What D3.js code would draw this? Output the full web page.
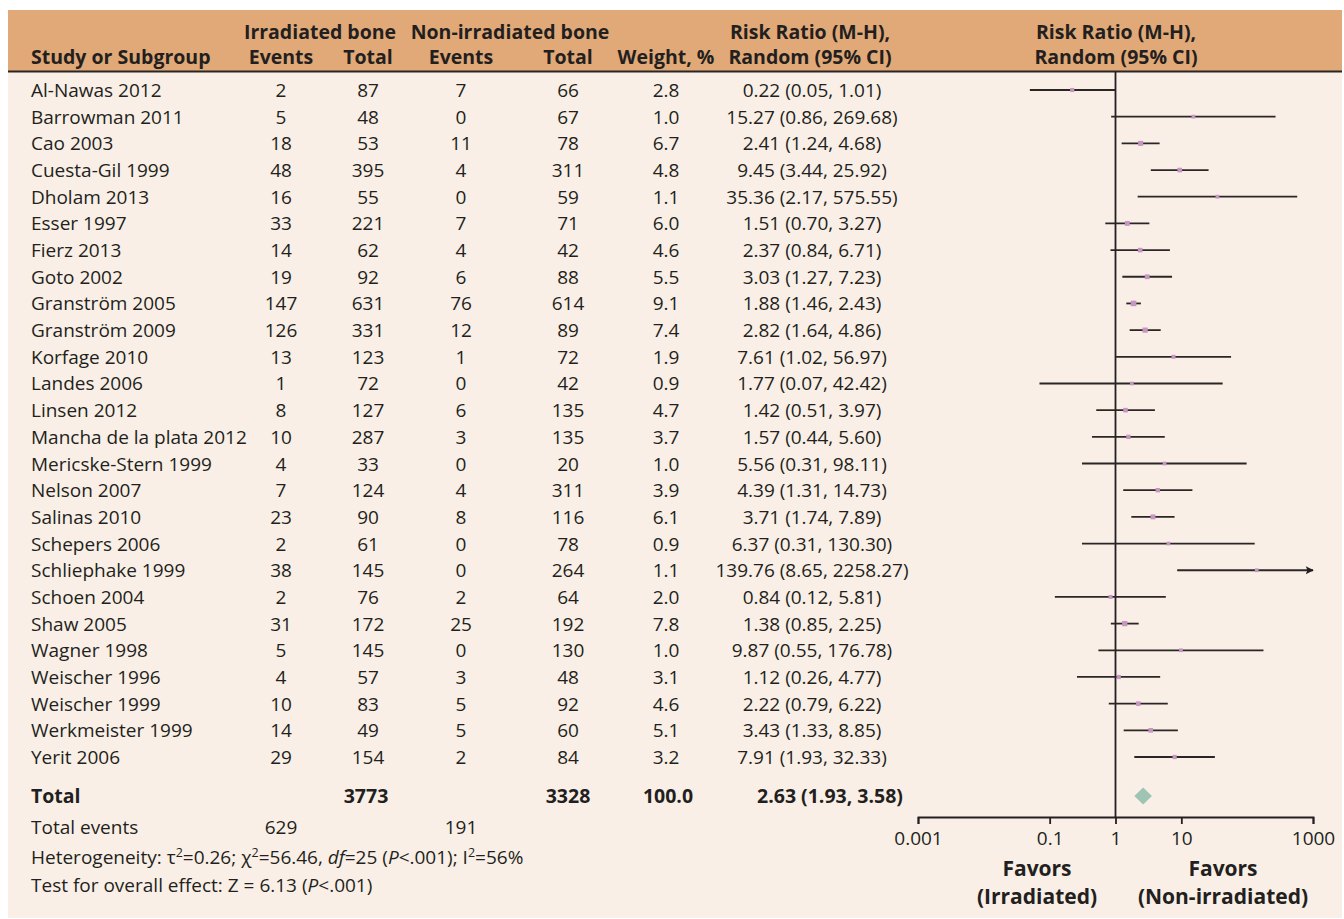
<!DOCTYPE html>
<html>
<head>
<meta charset="utf-8">
<script src="https://cdn.jsdelivr.net/npm/d3@7"></script>
<style>
  html, body { margin: 0; padding: 0; background: #ffffff; }
  svg { display: block; }
  text { font-family: "Open Sans", "Noto Sans", sans-serif; fill: #231f20; }
</style>
</head>
<body>
<svg id="chart" width="1344" height="919"></svg>
<script>
// Studies included in the meta-analysis
const studies = [
  "Al-Nawas 2012", "Barrowman 2011", "Cao 2003", "Cuesta-Gil 1999", "Dholam 2013",
  "Esser 1997", "Fierz 2013", "Goto 2002", "Granström 2005", "Granström 2009",
  "Korfage 2010", "Landes 2006", "Linsen 2012", "Mancha de la plata 2012",
  "Mericske-Stern 1999", "Nelson 2007", "Salinas 2010", "Schepers 2006",
  "Schliephake 1999", "Schoen 2004", "Shaw 2005", "Wagner 1998", "Weischer 1996",
  "Weischer 1999", "Werkmeister 1999", "Yerit 2006"
];
const irrEvents = [2, 5, 18, 48, 16, 33, 14, 19, 147, 126, 13, 1, 8, 10, 4, 7, 23, 2, 38, 2, 31, 5, 4, 10, 14, 29];
const irrTotal  = [87, 48, 53, 395, 55, 221, 62, 92, 631, 331, 123, 72, 127, 287, 33, 124, 90, 61, 145, 76, 172, 145, 57, 83, 49, 154];
const nonEvents = [7, 0, 11, 4, 0, 7, 4, 6, 76, 12, 1, 0, 6, 3, 0, 4, 8, 0, 0, 2, 25, 0, 3, 5, 5, 2];
const nonTotal  = [66, 67, 78, 311, 59, 71, 42, 88, 614, 89, 72, 42, 135, 135, 20, 311, 116, 78, 264, 64, 192, 130, 48, 92, 60, 84];
const weights   = [2.8, 1.0, 6.7, 4.8, 1.1, 6.0, 4.6, 5.5, 9.1, 7.4, 1.9, 0.9, 4.7, 3.7, 1.0, 3.9, 6.1, 0.9, 1.1, 2.0, 7.8, 1.0, 3.1, 4.6, 5.1, 3.2];
const riskRatio = [0.22, 15.27, 2.41, 9.45, 35.36, 1.51, 2.37, 3.03, 1.88, 2.82, 7.61, 1.77, 1.42, 1.57, 5.56, 4.39, 3.71, 6.37, 139.76, 0.84, 1.38, 9.87, 1.12, 2.22, 3.43, 7.91];
const ciLower   = [0.05, 0.86, 1.24, 3.44, 2.17, 0.70, 0.84, 1.27, 1.46, 1.64, 1.02, 0.07, 0.51, 0.44, 0.31, 1.31, 1.74, 0.31, 8.65, 0.12, 0.85, 0.55, 0.26, 0.79, 1.33, 1.93];
const ciUpper   = [1.01, 269.68, 4.68, 25.92, 575.55, 3.27, 6.71, 7.23, 2.43, 4.86, 56.97, 42.42, 3.97, 5.60, 98.11, 14.73, 7.89, 130.30, 2258.27, 5.81, 2.25, 176.78, 4.77, 6.22, 8.85, 32.33];

// Pooled estimate
const totalIrr = 3773, totalNon = 3328, totalWeight = 100.0;
const eventsIrr = 629, eventsNon = 191;
const pooled = [2.63, 1.93, 3.58];

// Axis ticks
const axisTicks = [0.001, 0.1, 1, 10, 1000];
const axisDomain = [0.001, 1000];

const svg = d3.select("#chart");
const FS = 19;      // body text
const FSB = 19.5;   // bold headings
const ink = "#231f20";

// Panel backgrounds
svg.append("rect").attr("x", 8).attr("y", 10).attr("width", 1334).attr("height", 908).attr("fill", "#f9efe6");
svg.append("rect").attr("x", 8).attr("y", 10).attr("width", 1334).attr("height", 61).attr("fill", "#e1a977");
svg.append("line").attr("x1", 8).attr("x2", 1342).attr("y1", 71.5).attr("y2", 71.5)
  .attr("stroke", "#2b2626").attr("stroke-width", 2);

// Column positions
const col = { study: 31, irrE: 281, irrT: 368, nonE: 461, nonT: 568, w: 666, rr: 812, plot: 1116 };

function txt(x, y, s, opts = {}) {
  return svg.append("text").attr("x", x).attr("y", y)
    .attr("font-size", opts.size || (opts.bold ? FSB : FS))
    .attr("text-anchor", opts.anchor || "middle")
    .attr("font-weight", opts.bold ? 700 : 400)
    .text(s);
}

// Header
const h1 = 38.5, h2 = 63.5;
txt(col.study, h2, "Study or Subgroup", { anchor: "start", bold: true });
txt(320, h1, "Irradiated bone", { bold: true });
txt(col.irrE, h2, "Events", { bold: true });
txt(col.irrT, h2, "Total", { bold: true });
txt(510, h1, "Non-irradiated bone", { bold: true });
txt(col.nonE, h2, "Events", { bold: true });
txt(col.nonT, h2, "Total", { bold: true });
txt(col.w, h2, "Weight, %", { bold: true });
txt(810, h1, "Risk Ratio (M-H),", { bold: true });
txt(810, h2, "Random (95% CI)", { bold: true });
txt(col.plot, h1, "Risk Ratio (M-H),", { bold: true });
txt(col.plot, h2, "Random (95% CI)", { bold: true });

// Row positions
const y = d3.scalePoint().domain(studies).range([90, 757]);
const base = 7;

const rows = studies.map((s, i) => ({
  study: s, ie: irrEvents[i], it: irrTotal[i], ne: nonEvents[i], nt: nonTotal[i],
  w: weights[i], rr: riskRatio[i], lo: ciLower[i], hi: ciUpper[i]
}));

const fmt2 = d3.format(".2f"), fmt1 = d3.format(".1f");

const cells = [
  { x: col.study, anchor: "start", f: d => d.study },
  { x: col.irrE, f: d => d.ie },
  { x: col.irrT, f: d => d.it },
  { x: col.nonE, f: d => d.ne },
  { x: col.nonT, f: d => d.nt },
  { x: col.w, f: d => fmt1(d.w) },
  { x: col.rr, f: d => `${fmt2(d.rr)} (${fmt2(d.lo)}, ${fmt2(d.hi)})` }
];
const rowG = svg.append("g").selectAll("g").data(rows).join("g");
cells.forEach(c => {
  rowG.append("text").attr("x", c.x).attr("y", d => y(d.study) + base)
    .attr("text-anchor", c.anchor || "middle").attr("font-size", FS).text(c.f);
});

// Total row
const yTot = 796;
txt(col.study, yTot + base, "Total", { anchor: "start", bold: true });
txt(col.irrT - 2, yTot + base, totalIrr, { bold: true });
txt(col.nonT, yTot + base, totalNon, { bold: true });
txt(col.w + 2, yTot + base, fmt1(totalWeight), { bold: true });
txt(830, yTot + base, `${fmt2(pooled[0])} (${fmt2(pooled[1])}, ${fmt2(pooled[2])})`, { bold: true });

// Footer
txt(col.study, 827 + base, "Total events", { anchor: "start" });
txt(col.irrE, 827 + base, eventsIrr);
txt(col.nonE, 827 + base, eventsNon);

const het = svg.append("text").attr("x", col.study).attr("y", 857 + base).attr("font-size", FS);
het.append("tspan").text("Heterogeneity: τ");
het.append("tspan").attr("font-size", 12.5).attr("dy", -7).text("2");
het.append("tspan").attr("dy", 7).text("=0.26; χ");
het.append("tspan").attr("font-size", 12.5).attr("dy", -7).text("2");
het.append("tspan").attr("dy", 7).text("=56.46, ");
het.append("tspan").attr("font-style", "italic").text("df");
het.append("tspan").text("=25 (");
het.append("tspan").attr("font-style", "italic").text("P");
het.append("tspan").text("<.001); I");
het.append("tspan").attr("font-size", 12.5).attr("dy", -7).text("2");
het.append("tspan").attr("dy", 7).text("=56%");

const zt = svg.append("text").attr("x", col.study).attr("y", 885 + base).attr("font-size", FS);
zt.append("tspan").text("Test for overall effect: Z = 6.13 (");
zt.append("tspan").attr("font-style", "italic").text("P");
zt.append("tspan").text("<.001)");

// Forest plot
const x = d3.scaleLog().domain(axisDomain).range([918, 1313]);
const axisY = 817;

// Line of no effect
svg.append("line").attr("x1", x(1)).attr("x2", x(1)).attr("y1", 72).attr("y2", axisY)
  .attr("stroke", ink).attr("stroke-width", 1.8);

svg.append("defs").append("marker")
  .attr("id", "arrow").attr("viewBox", "0 0 10 10").attr("refX", 9).attr("refY", 5)
  .attr("markerWidth", 10).attr("markerHeight", 8).attr("markerUnits", "userSpaceOnUse")
  .attr("orient", "auto")
  .append("path").attr("d", "M0,0 L10,5 L0,10 L2,5 Z").attr("fill", ink);

const clamp = v => Math.max(axisDomain[0], Math.min(axisDomain[1], v));
const plotG = svg.append("g");
plotG.selectAll("line.ci").data(rows).join("line")
  .attr("class", "ci")
  .attr("x1", d => x(clamp(d.lo))).attr("x2", d => x(clamp(d.hi)))
  .attr("y1", d => y(d.study)).attr("y2", d => y(d.study))
  .attr("stroke", "#2a2626").attr("stroke-width", 1.8)
  .attr("marker-end", d => d.hi > axisDomain[1] ? "url(#arrow)" : null);

const side = d3.scaleLinear().domain([0, 10]).range([3.5, 5.8]);
plotG.selectAll("rect.pt").data(rows).join("rect")
  .attr("class", "pt")
  .attr("x", d => x(d.rr) - side(d.w) / 2).attr("y", d => y(d.study) - side(d.w) / 2)
  .attr("width", d => side(d.w)).attr("height", d => side(d.w))
  .attr("fill", "#c795c1");

// Pooled diamond
const dh = 8.5;
svg.append("path")
  .attr("d", `M${x(pooled[1])},${yTot} L${x(pooled[0])},${yTot - dh} L${x(pooled[2])},${yTot} L${x(pooled[0])},${yTot + dh} Z`)
  .attr("fill", "#9ec5b3");

// Axis
const axis = d3.axisBottom(x).tickValues(axisTicks).tickSize(7).tickPadding(8)
  .tickFormat(d => d >= 1 ? d3.format("d")(d) : String(d));
const axG = svg.append("g").attr("transform", `translate(0,${axisY})`).call(axis);
axG.select(".domain").attr("stroke", ink).attr("stroke-width", 1.8);
axG.selectAll(".tick line").attr("stroke", ink).attr("stroke-width", 1.8);
axG.selectAll(".tick text").attr("font-size", FS).attr("fill", ink)
  .attr("font-family", "'Open Sans', 'Noto Sans', sans-serif");

// Favour labels
txt(1037, 876, "Favors", { bold: true, size: 21 });
txt(1037, 904, "(Irradiated)", { bold: true, size: 21 });
txt(1223, 876, "Favors", { bold: true, size: 21 });
txt(1223, 904, "(Non-irradiated)", { bold: true, size: 21 });
</script>
</body>
</html>
